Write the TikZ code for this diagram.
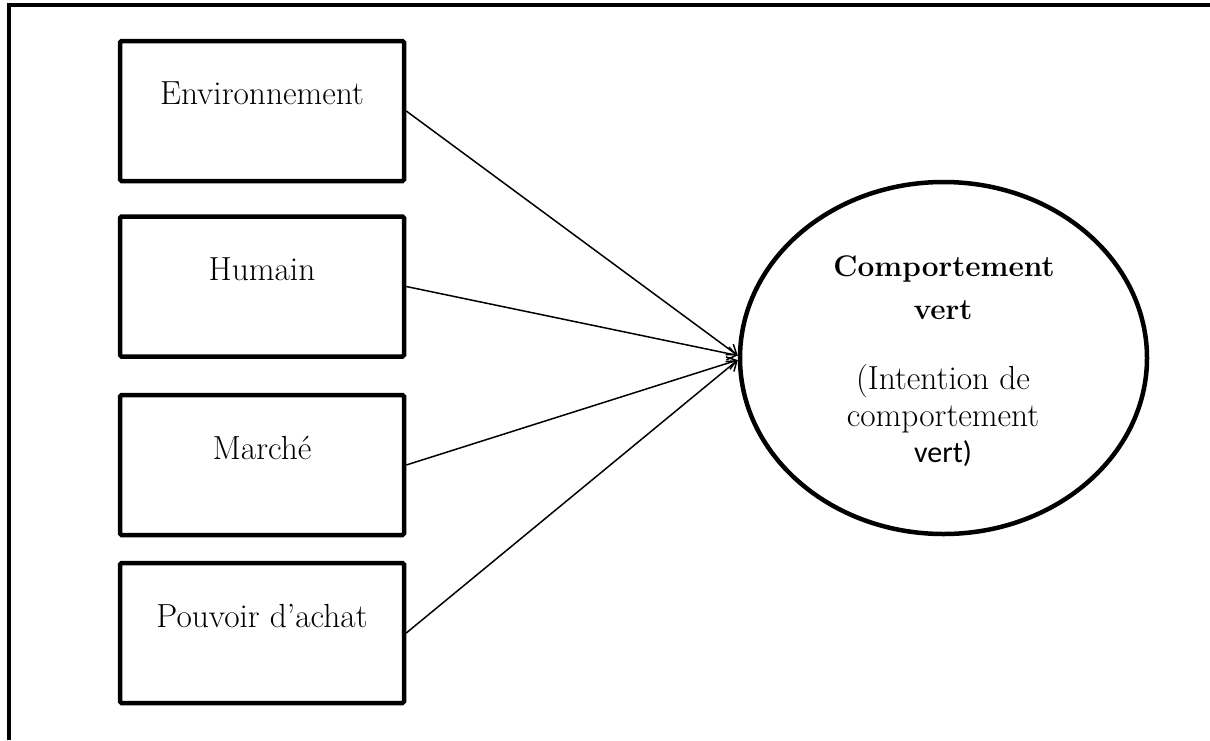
\documentclass[tikz,border=0pt]{standalone}
\usepackage{fontspec}
\newfontfamily\carlitofont{Carlito}
\usetikzlibrary{shapes.geometric,arrows.meta}
\begin{document}
\begin{tikzpicture}[x=1pt,y=-1pt,
  boxnode/.style={draw, line width=4.5pt, rounded corners=1.5pt, minimum width=284pt, minimum height=140pt, inner sep=0pt},
  lbl/.style={anchor=base, inner sep=0pt, font=\fontsize{33.4}{40}\selectfont},
  boldlbl/.style={anchor=base, inner sep=0pt, font=\bfseries\fontsize{29.8}{36}\selectfont},
  sanslbl/.style={anchor=base, inner sep=0pt, font=\carlitofont\fontsize{30}{36}\selectfont},
  conn/.style={line width=1.5pt, -{Straight Barb[length=9pt,width=13pt]}},
  ]
\useasboundingbox (0,0) rectangle (1210,740);
% outer frame (top and left sides)
\draw[line width=4.5pt] (9,740) -- (9,5) -- (1210,5);

% boxes
\node[boxnode] (b1) at (262,111) {};
\node[boxnode] (b2) at (262,286.5) {};
\node[boxnode] (b3) at (262,465) {};
\node[boxnode] (b4) at (262,633) {};

\node[lbl] (t1) at (262,104) {Environnement};
\node[lbl] (t2) at (262,280) {Humain};
\node[lbl] (t3) at (262,459) {Marché};
\node[lbl] (t4) at (262,627) {Pouvoir d’achat};

% ellipse
\node[draw, ellipse, line width=4.5pt, minimum width=407pt, minimum height=352pt, inner sep=0pt] (ell) at (943.5,358) {};
\node[boldlbl] (c1) at (944,276) {Comportement};
\node[boldlbl] (c2) at (943,319) {vert};
\node[lbl] (c3) at (943,389) {(Intention de};
\node[lbl] (c4) at (943,426) {comportement};
\node[sanslbl] (c5) at (943,462) {vert)};

\coordinate (tipA) at ([yshift=2.5pt]ell.west);
\coordinate (tipB) at ([yshift=-2pt]ell.west);

% connectors
\draw[conn] (b1.east) -- (tipA);
\draw[conn] (b2.east) -- (tipA);
\draw[conn] (b3.east) -- (tipB);
\draw[conn] (b4.east) -- (tipB);
\end{tikzpicture}
\end{document}
